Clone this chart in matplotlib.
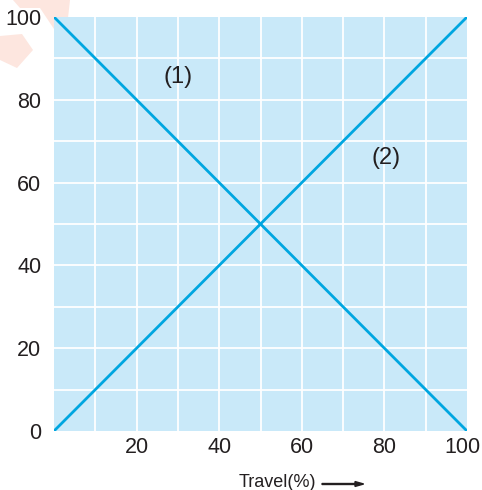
import matplotlib
matplotlib.use("Agg")
import matplotlib.pyplot as plt
import matplotlib.transforms as mtransforms
from matplotlib.patches import Polygon, FancyArrow

plt.rcParams['font.family'] = ['Liberation Sans', 'DejaVu Sans']

travel = [0, 100]
line1 = [100, 0]
line2 = [0, 100]
x_ticks = [20, 40, 60, 80, 100]
y_ticks = [0, 20, 40, 60, 80, 100]
labels = ["(1)", "(2)"]
label_pos = [(30, 85.5), (80.5, 66)]

fig = plt.figure(figsize=(4.82, 4.90), dpi=100)

# faint watermark fragments at the top left corner (pixel coords from top)
wm_shapes = [
    [(13, 0), (70, 0), (67, 27), (54, 29), (40, 8), (20, 8)],
    [(0, 36), (22, 34), (33, 50), (17, 68), (0, 60)],
]
for shape in wm_shapes:
    fig.patches.append(Polygon([(x / 482, 1 - y / 490) for x, y in shape],
                               closed=True, transform=fig.transFigure,
                               facecolor='#fde6df', edgecolor='none', zorder=-1))

ax = fig.add_axes([54 / 482, 1 - 431 / 490, 413 / 482, 414 / 490])
ax.set_facecolor('#c9e9f9')
ax.set_xlim(0, 100)
ax.set_ylim(0, 100)

for v in range(10, 100, 10):
    ax.axvline(v, color='white', lw=1.3, zorder=1)
    ax.axhline(v, color='white', lw=1.3, zorder=1)

ax.plot(travel, line1, color='#00a6e0', lw=2, zorder=3, solid_capstyle='butt')
ax.plot(travel, line2, color='#00a6e0', lw=2, zorder=3, solid_capstyle='butt')

for lab, (x, y) in zip(labels, label_pos):
    ax.text(x, y, lab, fontsize=17, color='#231f20', ha='center', va='center', zorder=4)

for s in ax.spines.values():
    s.set_visible(False)

ax.set_xticks(x_ticks)
ax.set_yticks(y_ticks)
ax.set_xticklabels([str(v) for v in x_ticks])
ax.set_yticklabels([str(v) for v in y_ticks])
ax.tick_params(length=0, labelsize=15.5, labelcolor='#231f20')
ax.tick_params(axis='x', pad=4)
ax.tick_params(axis='y', pad=9)

# last x label sits a little left of its tick so it stays inside the figure
last = ax.get_xticklabels()[-1]
last.set_transform(last.get_transform() +
                   mtransforms.ScaledTranslation(-5 / 100, 0, fig.dpi_scale_trans))

fig.text(277 / 482, 1 - 482 / 490, "Travel(%)", fontsize=13, color='#231f20',
         ha='center', va='center')
fig.patches.append(FancyArrow(
    322 / 482, 1 - 484 / 490, 33 / 482, 0, width=0.002, head_width=0.01,
    head_length=0.018, length_includes_head=False, color='#231f20',
    transform=fig.transFigure))

fig.savefig("out.png", dpi=100)
